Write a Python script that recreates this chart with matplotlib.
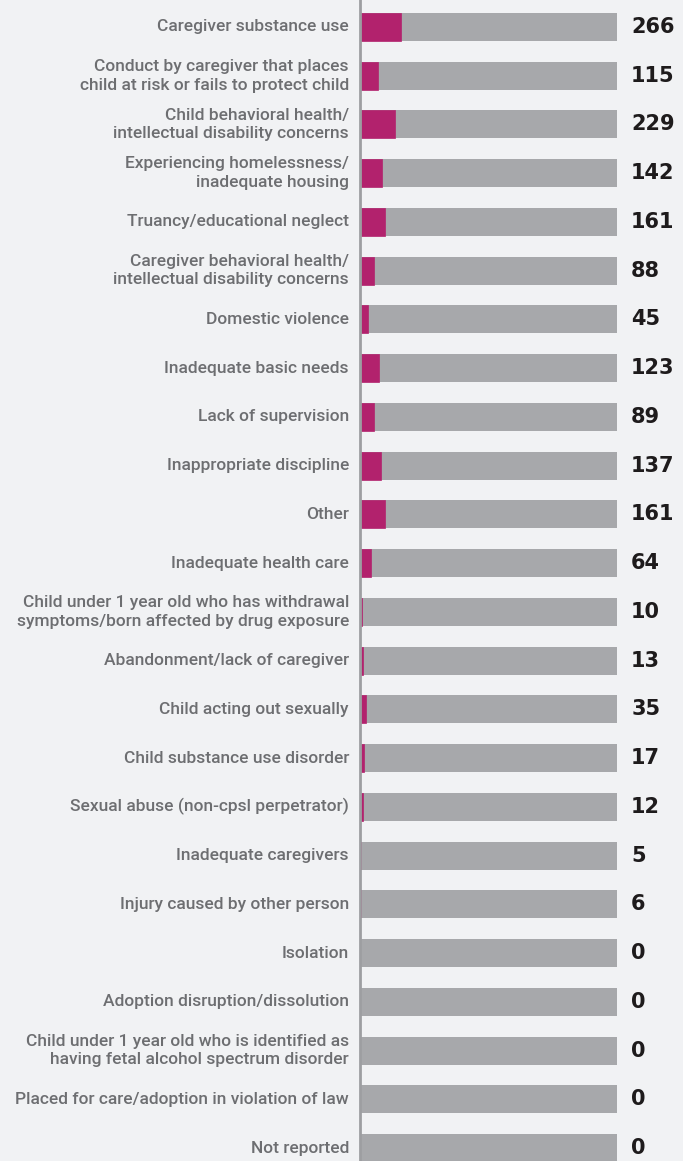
import matplotlib
matplotlib.use("Agg")
from matplotlib import pyplot as plt
import numpy as np

labels = [
    "Caregiver substance use",
    "Conduct by caregiver that places\nchild at risk or fails to protect child",
    "Child behavioral health/\nintellectual disability concerns",
    "Experiencing homelessness/\ninadequate housing",
    "Truancy/educational neglect",
    "Caregiver behavioral health/\nintellectual disability concerns",
    "Domestic violence",
    "Inadequate basic needs",
    "Lack of supervision",
    "Inappropriate discipline",
    "Other",
    "Inadequate health care",
    "Child under 1 year old who has withdrawal\nsymptoms/born affected by drug exposure",
    "Abandonment/lack of caregiver",
    "Child acting out sexually",
    "Child substance use disorder",
    "Sexual abuse (non-cpsl perpetrator)",
    "Inadequate caregivers",
    "Injury caused by other person",
    "Isolation",
    "Adoption disruption/dissolution",
    "Child under 1 year old who is identified as\nhaving fetal alcohol spectrum disorder",
    "Placed for care/adoption in violation of law",
    "Not reported",
]
counts = [266, 115, 229, 142, 161, 88, 45, 123, 89, 137, 161, 64,
          10, 13, 35, 17, 12, 5, 6, 0, 0, 0, 0, 0]

total = sum(counts)
bg = "#f1f2f4"
magenta = "#b2226d"
grey = "#a7a8ab"

fig = plt.figure(figsize=(6.83, 11.61), dpi=100, facecolor=bg)
ax = fig.add_axes([361 / 683, 0, 256 / 683, 1])
ax.set_facecolor(bg)

y = np.arange(len(counts))
ax.barh(y, [total] * len(counts), height=0.575, color=grey, zorder=1)
# thin edge keeps the tiny counts visible
ax.barh(y, counts, height=0.575, color=magenta, zorder=2,
        edgecolor=[magenta if c >= 10 else "none" for c in counts], lw=0.5)

ax.set_xlim(0, total)
ax.set_ylim(23 + 13 / 48.74, -27 / 48.74)

for i, (lab, c) in enumerate(zip(labels, counts)):
    ax.text(-0.047 * total, i, lab, ha="right", va="center", fontsize=12.5,
            color="#6d6e71", family="Roboto", fontweight="medium",
            linespacing=1.3)
    ax.text(total * 1.055, i, str(c), ha="left", va="center", fontsize=15,
            color="#1e1b1c", family="DejaVu Sans", fontweight="bold")

ax.axvline(-0.0045 * total, color="#9d9ea1", lw=2, clip_on=False, zorder=3)
ax.set_xticks([])
ax.set_yticks([])
for s in ax.spines.values():
    s.set_visible(False)

fig.savefig("out.png", dpi=100, facecolor=bg)
